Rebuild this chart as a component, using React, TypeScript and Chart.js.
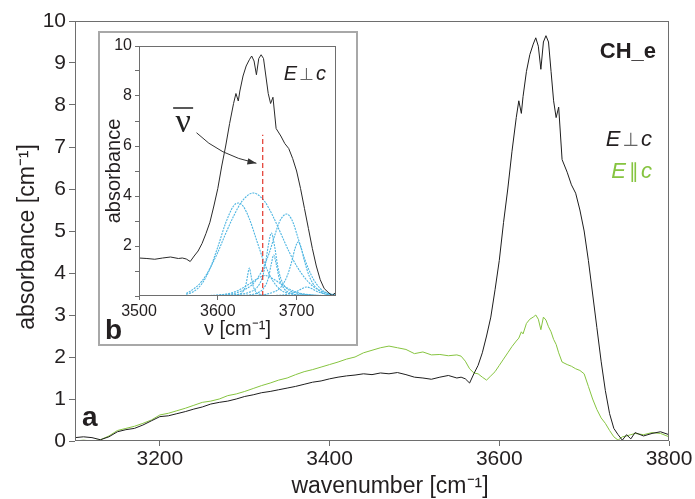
import { useEffect, useRef } from 'react';
import { Chart, registerables } from 'chart.js';

Chart.register(...registerables);

// ---------- data ----------
const wavenumbers = [
  3100, 3110, 3120, 3130, 3140, 3150, 3160, 3170, 3180, 3190,
  3200, 3210, 3220, 3230, 3240, 3250, 3260, 3270, 3280, 3290,
  3300, 3310, 3320, 3330, 3340, 3350, 3360, 3370, 3380, 3390,
  3400, 3410, 3420, 3430, 3440, 3450, 3460, 3470, 3480, 3490,
  3500, 3510, 3520, 3530, 3540, 3550,
  3555, 3560, 3565, 3570, 3575, 3580, 3585, 3590, 3595, 3600,
  3605, 3610, 3615, 3620, 3623, 3626, 3628, 3632, 3636, 3640,
  3643, 3646, 3649, 3652, 3655, 3658, 3661, 3664, 3667, 3670,
  3674, 3680, 3685, 3690, 3695, 3700, 3705, 3710, 3715, 3720,
  3725, 3730, 3735, 3740, 3745, 3750, 3755, 3760, 3770, 3780,
  3790, 3800,
];

// E ⊥ c (black)
const perpAbsorbance = [
  0.08, 0.1, 0.08, 0.03, 0.1, 0.22, 0.27, 0.3, 0.38, 0.48,
  0.58, 0.6, 0.65, 0.7, 0.76, 0.81, 0.88, 0.92, 0.95, 1.0,
  1.06, 1.1, 1.15, 1.18, 1.22, 1.26, 1.3, 1.35, 1.4, 1.43,
  1.48, 1.52, 1.55, 1.57, 1.6, 1.58, 1.62, 1.6, 1.63, 1.58,
  1.52, 1.5, 1.47, 1.52, 1.56, 1.5,
  1.52, 1.48, 1.38, 1.6, 1.8, 2.1, 2.5, 2.95, 3.6, 4.3,
  5.2, 6.0, 6.9, 7.7, 8.1, 7.8, 8.2, 8.8, 9.2, 9.45,
  9.6, 9.4, 8.85, 9.5, 9.65, 9.5, 8.8, 8.1, 7.7, 7.95,
  6.7, 6.4, 6.1, 5.9, 5.5, 5.0, 4.3, 3.5, 2.7, 1.9,
  1.2, 0.65, 0.3, 0.15, 0.02, 0.15, 0.05, 0.2, 0.12, 0.18,
  0.22, 0.15,
];

// E ∥ c (green)
const paraAbsorbance = [
  0.0, 0.02, 0.0, 0.03, 0.12, 0.25, 0.3, 0.35, 0.42, 0.5,
  0.62, 0.66, 0.72, 0.78, 0.85, 0.92, 0.95, 1.0, 1.08, 1.12,
  1.18, 1.25, 1.32, 1.38, 1.45, 1.5, 1.58, 1.65, 1.7, 1.76,
  1.82, 1.88, 1.95, 2.0, 2.1, 2.16, 2.22, 2.26, 2.22, 2.18,
  2.08, 2.12, 2.05, 2.06, 2.03, 2.05,
  2.02, 1.9, 1.72, 1.62, 1.6, 1.52, 1.45, 1.55, 1.65, 1.8,
  1.95, 2.1, 2.25, 2.38, 2.45, 2.6, 2.55, 2.8, 2.9, 2.95,
  3.0, 2.9, 2.65, 2.95, 2.88, 2.72, 2.6, 2.42, 2.3, 2.1,
  1.88, 1.82, 1.78, 1.72, 1.68, 1.6, 1.3, 1.0, 0.75, 0.55,
  0.42, 0.25, 0.1, 0.02, 0.1, 0.12, 0.15, 0.18, 0.15, 0.2,
  0.18, 0.1,
];

const mainXTicks = [3200, 3400, 3600, 3800];
const insetXTicks = [3500, 3600, 3700];
const insetYLabels = [2, 4, 6, 8, 10];

// fitted band components (inset)
const bandAx = [3560, 3570, 3580, 3590, 3600, 3610, 3620, 3626, 3632, 3640, 3650, 3660, 3670, 3680, 3690, 3700, 3710, 3720, 3740];
const bandAy = [0.06, 0.19, 0.5, 1.09, 1.96, 2.92, 3.6, 3.72, 3.6, 3.09, 2.16, 1.25, 0.6, 0.24, 0.1, 0.05, 0.03, 0.02, 0.01];
const bandBx = [3560, 3570, 3580, 3590, 3600, 3610, 3620, 3630, 3640, 3645, 3650, 3660, 3670, 3680, 3690, 3700, 3710, 3720, 3730, 3740, 3750];
const bandBy = [0.1, 0.3, 0.6, 1.1, 1.75, 2.5, 3.19, 3.76, 4.07, 4.12, 4.07, 3.76, 3.19, 2.5, 1.8, 1.2, 0.74, 0.41, 0.22, 0.1, 0.05];
const bandCx = [3560, 3610, 3625, 3632, 3636, 3638, 3640, 3642, 3644, 3648, 3655, 3670, 3750];
const bandCy = [0, 0.02, 0.06, 0.18, 0.5, 0.85, 1.12, 0.85, 0.5, 0.18, 0.06, 0.02, 0];
const bandDx = [3560, 3620, 3640, 3650, 3656, 3660, 3664, 3668, 3672, 3676, 3680, 3686, 3700, 3720, 3750];
const bandDy = [0, 0.05, 0.15, 0.35, 0.7, 1.2, 2.0, 2.52, 2.0, 1.2, 0.7, 0.35, 0.12, 0.04, 0.01];
const bandEx = [3560, 3630, 3650, 3658, 3664, 3668, 3671, 3674, 3678, 3684, 3692, 3710, 3750];
const bandEy = [0, 0.03, 0.12, 0.3, 0.7, 1.3, 1.64, 1.3, 0.7, 0.3, 0.12, 0.03, 0];
const bandFx = [3560, 3610, 3630, 3645, 3655, 3665, 3672, 3678, 3683, 3687, 3691, 3696, 3702, 3710, 3720, 3730, 3740, 3750];
const bandFy = [0, 0.05, 0.2, 0.5, 0.95, 1.7, 2.4, 2.95, 3.2, 3.28, 3.2, 2.9, 2.3, 1.5, 0.75, 0.3, 0.1, 0.04];
const bandGx = [3560, 3650, 3670, 3680, 3688, 3694, 3698, 3702, 3706, 3710, 3716, 3724, 3735, 3750];
const bandGy = [0, 0.03, 0.15, 0.35, 0.8, 1.4, 1.9, 2.16, 1.9, 1.4, 0.8, 0.35, 0.1, 0.02];
const bandHx = [3560, 3670, 3690, 3700, 3707, 3713, 3719, 3726, 3736, 3750];
const bandHy = [0, 0.02, 0.08, 0.18, 0.3, 0.36, 0.3, 0.18, 0.08, 0.02];
const bandIx = [3560, 3600, 3620, 3635, 3648, 3660, 3672, 3685, 3700, 3720, 3750];
const bandIy = [0, 0.04, 0.15, 0.38, 0.65, 0.82, 0.65, 0.38, 0.15, 0.04, 0];

// mean wavenumber marker
const meanNu = 3657;
const meanNuTop = 6.45;
const nuLabelPos = [3556, 6.56];
const arrowStart = [3573, 6.53];
const arrowControl = [3602, 5.62];
const arrowEnd = [3649, 5.31];

// axis titles
const mainXTitle = 'wavenumber [cm⁻¹]';
const mainYTitle = 'absorbance [cm⁻¹]';

// ---------- styling ----------
const FONT = '"Liberation Sans", Arial, Helvetica, sans-serif';
const SYM = '"DejaVu Sans", "Liberation Sans", sans-serif';
const frameColor = '#6e6e6e';
const textColor = '#231f20';
const blackLine = '#1e1e1e';
const greenLine = '#86c440';
const blueLine = '#4fb6e2';
const redLine = '#e2362c';

const pts = (xs: number[], ys: number[]) => xs.map((x, i) => ({ x, y: ys[i] }));
const plainNum = (v: any) => String(v);

type Run = { text: string; font: string; color: string; gap?: number };
function drawRunsRight(ctx: CanvasRenderingContext2D, runs: Run[], right: number, baseline: number) {
  let total = 0;
  const widths = runs.map((r) => {
    ctx.font = r.font;
    const w = ctx.measureText(r.text).width;
    total += w + (r.gap || 0);
    return w;
  });
  let x = right - total;
  ctx.textAlign = 'left';
  ctx.textBaseline = 'alphabetic';
  runs.forEach((r, i) => {
    ctx.font = r.font;
    ctx.fillStyle = r.color;
    ctx.fillText(r.text, x, baseline);
    x += widths[i] + (r.gap || 0);
  });
}

function drawFrame(chart: any) {
  const { ctx, chartArea } = chart;
  ctx.save();
  ctx.strokeStyle = frameColor;
  ctx.lineWidth = 1;
  ctx.strokeRect(
    Math.round(chartArea.left) + 0.5,
    Math.round(chartArea.top) + 0.5,
    Math.round(chartArea.right - chartArea.left) - 1,
    Math.round(chartArea.bottom - chartArea.top) - 1
  );
  ctx.restore();
}

const mainDecor = {
  id: 'mainDecor',
  afterDraw(chart: any) {
    const ctx: CanvasRenderingContext2D = chart.ctx;
    drawFrame(chart);
    ctx.save();
    // axis titles
    ctx.fillStyle = textColor;
    ctx.font = `23px ${FONT}`;
    ctx.textAlign = 'center';
    ctx.textBaseline = 'middle';
    ctx.fillText(mainXTitle, 390, 487);
    ctx.save();
    ctx.translate(28, 237);
    ctx.rotate(-Math.PI / 2);
    ctx.fillText(mainYTitle, 0, 0);
    ctx.restore();

    ctx.font = `bold 22px ${FONT}`;
    ctx.textAlign = 'right';
    ctx.textBaseline = 'alphabetic';
    ctx.fillText('CH_e', 656, 58);
    drawRunsRight(ctx, [
      { text: 'E', font: `italic 22px ${FONT}`, color: textColor, gap: 2 },
      { text: '⊥', font: `19px ${SYM}`, color: '#666', gap: 2 },
      { text: 'c', font: `italic 22px ${FONT}`, color: textColor },
    ], 652, 146);
    drawRunsRight(ctx, [
      { text: 'E', font: `italic 22px ${FONT}`, color: greenLine, gap: 3 },
      { text: '∥', font: `20px ${SYM}`, color: greenLine, gap: 2 },
      { text: 'c', font: `italic 22px ${FONT}`, color: greenLine },
    ], 652, 178);
    ctx.fillStyle = textColor;
    ctx.font = `bold 28px ${FONT}`;
    ctx.textAlign = 'left';
    ctx.fillText('a', 82, 426);
    ctx.restore();
  },
};

const insetDecor = {
  id: 'insetDecor',
  afterDraw(chart: any) {
    const ctx: CanvasRenderingContext2D = chart.ctx;
    const xs = chart.scales.x;
    const ys = chart.scales.y;
    drawFrame(chart);
    ctx.save();
    drawRunsRight(ctx, [
      { text: 'E', font: `italic 20px ${FONT}`, color: textColor, gap: 2 },
      { text: '⊥', font: `17px ${SYM}`, color: '#666', gap: 2 },
      { text: 'c', font: `italic 20px ${FONT}`, color: textColor },
    ], 226, 47);
    ctx.fillStyle = textColor;
    ctx.font = `bold 28px ${FONT}`;
    ctx.textAlign = 'left';
    ctx.textBaseline = 'alphabetic';
    ctx.fillText('b', 5, 306);

    // nu-bar label
    const lx = xs.getPixelForValue(nuLabelPos[0]);
    const ly = ys.getPixelForValue(nuLabelPos[1]);
    ctx.font = `34px "Liberation Serif", "Times New Roman", serif`;
    ctx.textAlign = 'center';
    ctx.fillStyle = '#222';
    ctx.fillText('ν', lx, ly);
    ctx.strokeStyle = '#222';
    ctx.lineWidth = 1.5;
    ctx.beginPath();
    ctx.moveTo(lx - 10, ly - 24);
    ctx.lineTo(lx + 10, ly - 24);
    ctx.stroke();

    // arrow
    const p0 = [xs.getPixelForValue(arrowStart[0]), ys.getPixelForValue(arrowStart[1])];
    const pc = [xs.getPixelForValue(arrowControl[0]), ys.getPixelForValue(arrowControl[1])];
    const p1 = [xs.getPixelForValue(arrowEnd[0]), ys.getPixelForValue(arrowEnd[1])];
    ctx.strokeStyle = '#333';
    ctx.lineWidth = 1;
    ctx.beginPath();
    ctx.moveTo(p0[0], p0[1]);
    ctx.quadraticCurveTo(pc[0], pc[1], p1[0], p1[1]);
    ctx.stroke();
    const ang = Math.atan2(p1[1] - pc[1], p1[0] - pc[0]);
    const L = 9, W = 3.2;
    ctx.fillStyle = '#333';
    ctx.beginPath();
    ctx.moveTo(p1[0], p1[1]);
    ctx.lineTo(p1[0] - L * Math.cos(ang) + W * Math.sin(ang), p1[1] - L * Math.sin(ang) - W * Math.cos(ang));
    ctx.lineTo(p1[0] - L * Math.cos(ang) - W * Math.sin(ang), p1[1] - L * Math.sin(ang) + W * Math.cos(ang));
    ctx.closePath();
    ctx.fill();
    ctx.restore();
  },
};

const gridOpts = (len: number) => ({
  display: true,
  drawOnChartArea: false,
  drawTicks: true,
  tickLength: len,
  color: frameColor,
  lineWidth: 1,
});

export default function App() {
  const mainRef = useRef<HTMLCanvasElement>(null);
  const insetRef = useRef<HTMLCanvasElement>(null);

  useEffect(() => {
    const perpPts = pts(wavenumbers, perpAbsorbance);
    const paraPts = pts(wavenumbers, paraAbsorbance);

    const main = new Chart(mainRef.current!, {
      type: 'line',
      data: {
        datasets: [
          { label: 'E ⊥ c', data: perpPts, borderColor: blackLine, borderWidth: 1, pointRadius: 0, tension: 0 },
          { label: 'E ∥ c', data: paraPts, borderColor: greenLine, borderWidth: 1, pointRadius: 0, tension: 0 },
        ],
      },
      options: {
        responsive: false,
        animation: false,
        devicePixelRatio: 1,
        layout: { padding: { top: 21, right: 26, left: 0, bottom: 0 } },
        plugins: { legend: { display: false }, tooltip: { enabled: false } },
        scales: {
          x: {
            type: 'linear',
            min: 3100,
            max: 3800,
            afterBuildTicks: (s: any) => { s.ticks = mainXTicks.map((v) => ({ value: v })); },
            afterFit: (s: any) => { s.height = 58; },
            ticks: { font: { family: FONT, size: 21 }, color: textColor, padding: 1, maxRotation: 0, autoSkip: false, callback: plainNum },
            grid: gridOpts(5),
            border: { display: false },
            title: { display: false, text: mainXTitle },
          },
          y: {
            min: 0,
            max: 10,
            afterFit: (s: any) => { s.width = 75; },
            ticks: { stepSize: 1, font: { family: FONT, size: 21 }, color: textColor, padding: 3, autoSkip: false, callback: plainNum },
            grid: gridOpts(6),
            border: { display: false },
            title: { display: false, text: mainYTitle },
          },
        },
      },
      plugins: [mainDecor],
    } as any);

    const bands = [
      [bandAx, bandAy], [bandBx, bandBy], [bandCx, bandCy], [bandDx, bandDy], [bandEx, bandEy],
      [bandFx, bandFy], [bandGx, bandGy], [bandHx, bandHy], [bandIx, bandIy],
    ];

    const inset = new Chart(insetRef.current!, {
      type: 'line',
      data: {
        datasets: [
          { data: perpPts, borderColor: '#2a2a2a', borderWidth: 1, pointRadius: 0, tension: 0 },
          {
            data: [{ x: meanNu, y: 0 }, { x: meanNu, y: meanNuTop }],
            borderColor: redLine, borderWidth: 1.2, borderDash: [5, 3], pointRadius: 0,
          },
          ...bands.map(([bx, by]) => ({
            data: pts(bx, by),
            borderColor: blueLine,
            borderWidth: 1.1,
            borderDash: [2, 1],
            pointRadius: 0,
            cubicInterpolationMode: 'monotone',
          })),
        ],
      },
      options: {
        responsive: false,
        animation: false,
        devicePixelRatio: 1,
        layout: { padding: { top: 13, right: 20, left: 0, bottom: 0 } },
        plugins: { legend: { display: false }, tooltip: { enabled: false } },
        scales: {
          x: {
            type: 'linear',
            min: 3500,
            max: 3750,
            afterBuildTicks: (s: any) => { s.ticks = insetXTicks.map((v) => ({ value: v })); },
            afterFit: (s: any) => { s.height = 48; },
            ticks: { font: { family: FONT, size: 16 }, color: textColor, padding: 2, maxRotation: 0, autoSkip: false, callback: plainNum },
            grid: gridOpts(4),
            border: { display: false },
            title: {
              display: true,
              text: 'ν [cm⁻¹]',
              font: { family: FONT, size: 20 },
              color: textColor,
              padding: { top: 0, bottom: 3 },
            },
          },
          y: {
            min: 0,
            max: 10,
            afterFit: (s: any) => { s.width = 39; },
            ticks: {
              stepSize: 1,
              autoSkip: false,
              font: { family: FONT, size: 16 },
              color: textColor,
              padding: 3,
              callback: (v: any) => (insetYLabels.includes(Number(v)) ? String(v) : ''),
            },
            grid: gridOpts(4),
            border: { display: false },
            title: {
              display: true,
              text: 'absorbance',
              font: { family: FONT, size: 20 },
              color: textColor,
              padding: { top: 2, bottom: 0 },
            },
          },
        },
      },
      plugins: [insetDecor],
    } as any);

    return () => {
      main.destroy();
      inset.destroy();
    };
  }, []);

  return (
    <div style={{ position: 'absolute', left: 0, top: 0, width: 695, height: 499, background: '#fff' }}>
      <canvas ref={mainRef} width={695} height={499} style={{ position: 'absolute', left: 0, top: 0, width: 695, height: 499 }} />
      <div
        style={{
          position: 'absolute',
          left: 98,
          top: 31,
          width: 256,
          height: 311,
          border: '2px solid #a8a8a8',
          background: '#fff',
        }}
      >
        <canvas ref={insetRef} width={256} height={311} style={{ display: 'block', width: 256, height: 311 }} />
      </div>
    </div>
  );
}
